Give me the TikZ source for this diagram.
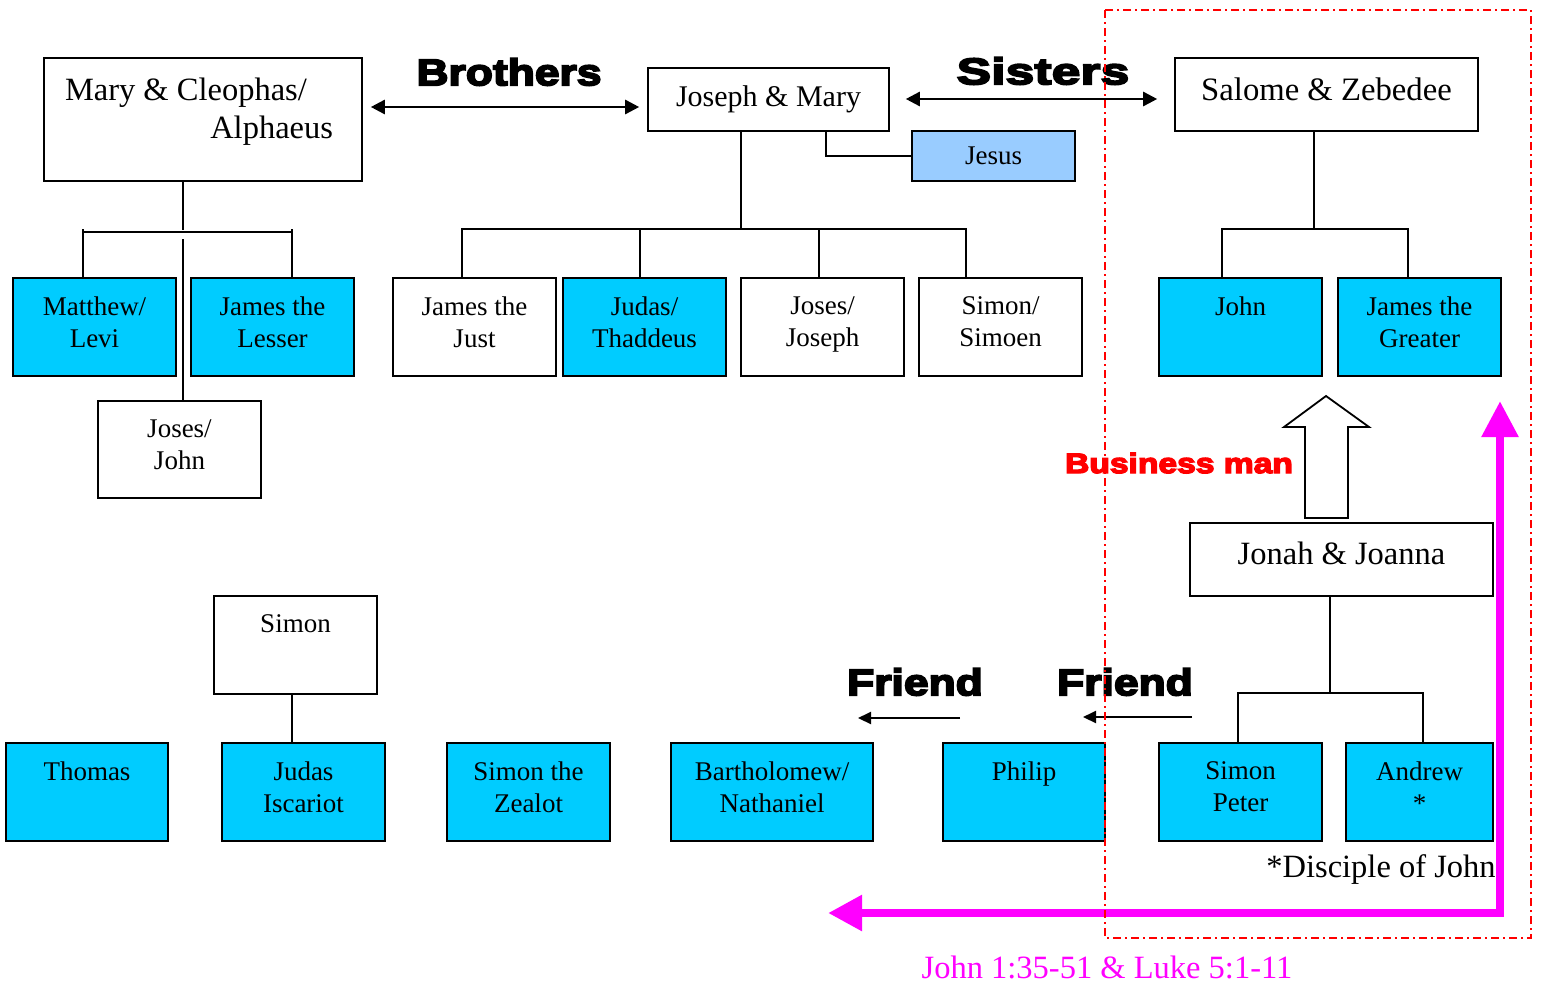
\documentclass[tikz,border=0pt]{standalone}
\usepackage{fontspec}
\setmainfont{Liberation Serif}
\newfontfamily\heavy[FakeBold=5,FakeStretch=1.2]{Liberation Sans}
\newfontfamily\heavywide[FakeBold=5,FakeStretch=1.4]{Liberation Sans}
\usetikzlibrary{arrows.meta}
\definecolor{boxcyan}{HTML}{00CCFF}
\definecolor{jesusblue}{HTML}{99CCFF}
\definecolor{pink}{HTML}{FF00FF}
\definecolor{dashred}{HTML}{FF0000}
\newcommand\cell[3]{\parbox[c][#2pt][t]{#1pt}{\vspace*{18.5pt}\centering #3\par}}
\newcommand\topcell[4]{\parbox[c][#2pt][t]{#1pt}{\vspace*{#3pt}\centering #4\par}}
\tikzset{
  base/.style={draw, line width=1.6pt, inner sep=0pt, font=\fontsize{27}{32}\selectfont},
  cb/.style={base, fill=boxcyan},
  wb/.style={base, fill=white},
  lb/.style={base, fill=jesusblue},
  conn/.style={line width=1.5pt},
  heavylbl/.style={inner sep=0pt, font=\heavy\bfseries\fontsize{37}{40}\selectfont},
  dbl/.style={line width=2.6pt, {Triangle[length=14pt,width=14pt]}-{Triangle[length=14pt,width=14pt]}},
  fr/.style={line width=2.2pt, -{Triangle[length=13pt,width=12pt]}},
}
\begin{document}
\begin{tikzpicture}[x=1pt,y=-1pt]
\useasboundingbox[fill=white] (0,0) rectangle (1541,985);

% top parent boxes
\node[wb, font=\fontsize{32.5}{38}\selectfont] (mc) at (203,119.5) {\parbox[c][123pt][t]{318pt}{\vspace*{20pt}\hspace*{21pt}Mary \& Cleophas/\\\hspace*{\fill}Alphaeus\hspace*{29pt}}};
\node[wb, font=\fontsize{30}{36}\selectfont, minimum width=241, minimum height=63] (jm) at (768.5,99.5) {Joseph \& Mary};
\node[lb, minimum width=163, minimum height=50] (jesus) at (993.5,156) {\raisebox{-2pt}{Jesus}};
\node[wb, font=\fontsize{32.7}{38}\selectfont] (sz) at (1326.5,94.5) {\topcell{303}{73}{20}{Salome \& Zebedee}};
\node[wb, font=\fontsize{32.5}{38}\selectfont] (jj) at (1341.5,559.5) {\topcell{303}{73}{19}{Jonah \& Joanna}};

% row 1
\node[cb] (matthew) at (94.5,327) {\cell{163}{98}{Matthew/\\Levi}};
\node[cb] (lesser) at (272.5,327) {\cell{163}{98}{James the\\Lesser}};
\node[wb] (josesjohn) at (179.5,449.5) {\cell{163}{97}{Joses/\\John}};
\node[wb] (just) at (474.5,327) {\cell{163}{98}{James the\\Just}};
\node[cb] (thaddeus) at (644.5,327) {\cell{163}{98}{Judas/\\Thaddeus}};
\node[wb] (josesjoseph) at (822.5,327) {\cell{163}{98}{Joses/\\Joseph}};
\node[wb] (simoen) at (1000.5,327) {\cell{163}{98}{Simon/\\Simoen}};
\node[cb] (john) at (1240.5,327) {\cell{163}{98}{John}};
\node[cb] (greater) at (1419.5,327) {\cell{163}{98}{James the\\Greater}};

% row 2
\node[wb] (simon) at (295.5,645) {\cell{163}{98}{Simon}};
\node[cb] (thomas) at (87,792) {\cell{162}{98}{Thomas}};
\node[cb] (iscariot) at (303.5,792) {\cell{163}{98}{Judas\\Iscariot}};
\node[cb] (zealot) at (528.5,792) {\cell{163}{98}{Simon the\\Zealot}};
\node[cb] (bart) at (772,792) {\cell{202}{98}{Bartholomew/\\Nathaniel}};
\node[cb] (philip) at (1024,792) {\cell{162}{98}{Philip}};
\node[cb] (peter) at (1240.5,792) {\cell{163}{98}{Simon\\Peter}};
\node[cb] (andrew) at (1419.5,792) {\cell{147}{98}{Andrew\\{*}}};

% tree: Mary & Cleophas
\draw[conn] (183,0 |- mc.south) -- (183,230);
\draw[conn] (83,0 |- matthew.north) -- (83,229);
\draw[conn] (292,0 |- lesser.north) -- (292,229);
\draw[conn] (83,232) -- (292,232);
\draw[conn] (183,239) -- (183,0 |- josesjohn.north);

% tree: Joseph & Mary
\draw[conn] (741,0 |- jm.south) -- (741,229);
\draw[conn] (462,0 |- just.north) |- (966,229) -- (966,0 |- simoen.north);
\draw[conn] (640,229) -- (640,0 |- thaddeus.north);
\draw[conn] (819,229) -- (819,0 |- josesjoseph.north);
\draw[conn] (826,0 |- jm.south) |- (jesus.west);

% tree: Salome & Zebedee
\draw[conn] (1314,0 |- sz.south) -- (1314,229);
\draw[conn] (1222,0 |- john.north) |- (1408,229) -- (1408,0 |- greater.north);

% tree: Jonah & Joanna
\draw[conn] (1330,0 |- jj.south) -- (1330,693);
\draw[conn] (1238,0 |- peter.north) |- (1423,693) -- (1423,0 |- andrew.north);

% Simon -> Judas Iscariot
\draw[conn] (292,0 |- simon.south) -- (292,0 |- iscariot.north);

% relation arrows and labels
\draw[dbl, shorten <=8pt, shorten >=8pt] (mc.east |- 0,107) -- (jm.west |- 0,107);
\node[heavylbl] (brothers) at (509,72) {Brothers};
\draw[dbl, shorten <=16pt, shorten >=17pt] (jm.east |- 0,99) -- (sz.west |- 0,99);
\node[heavylbl, font=\heavywide\bfseries\fontsize{37}{40}\selectfont] (sisters) at (1043,71) {Sisters};

\coordinate (f1s) at (960,718);
\coordinate (f1e) at (858,718);
\coordinate (f2s) at (1192,717);
\coordinate (f2e) at (1083,717);
\draw[fr] (f1s) -- (f1e);
\draw[fr] (f2s) -- (f2e);
\node[heavylbl] (friend1) at (915,682) {Friend};
\node[heavylbl] (friend2) at (1125,682) {Friend};

% business man block arrow
\draw[line width=1.8pt, fill=white] (1305,518) -- (1305,427) -- (1284,427) -- (1326,396) -- (1369,427) -- (1348,427) -- (1348,518) -- cycle;
\node[inner sep=0pt, text=dashred, font=\heavy\bfseries\fontsize{28}{32}\selectfont] (business) at (1179,463) {Business man};

% footnote
\node[inner sep=0pt, font=\fontsize{32.5}{36}\selectfont] (disciple) at (1381,870) {*Disciple of John};

% magenta arrow
\coordinate (mtop) at (1500,401);
\coordinate (mleft) at (828,913);
\draw[pink, line width=8.5pt, line join=miter, {Triangle[length=36pt,width=35pt]}-{Triangle[length=34pt,width=34pt]}] (mtop) |- (mleft);
\node[inner sep=0pt, text=pink, font=\fontsize{32.5}{36}\selectfont] (ref) at (1107,967) {John 1:35-51 \& Luke 5:1-11};

% red dash-dot frame
\draw[dashred, line width=1.8pt, dash pattern=on 8pt off 4pt on 2pt off 4pt] (1105,10) rectangle (1531,938);
\end{tikzpicture}
\end{document}
